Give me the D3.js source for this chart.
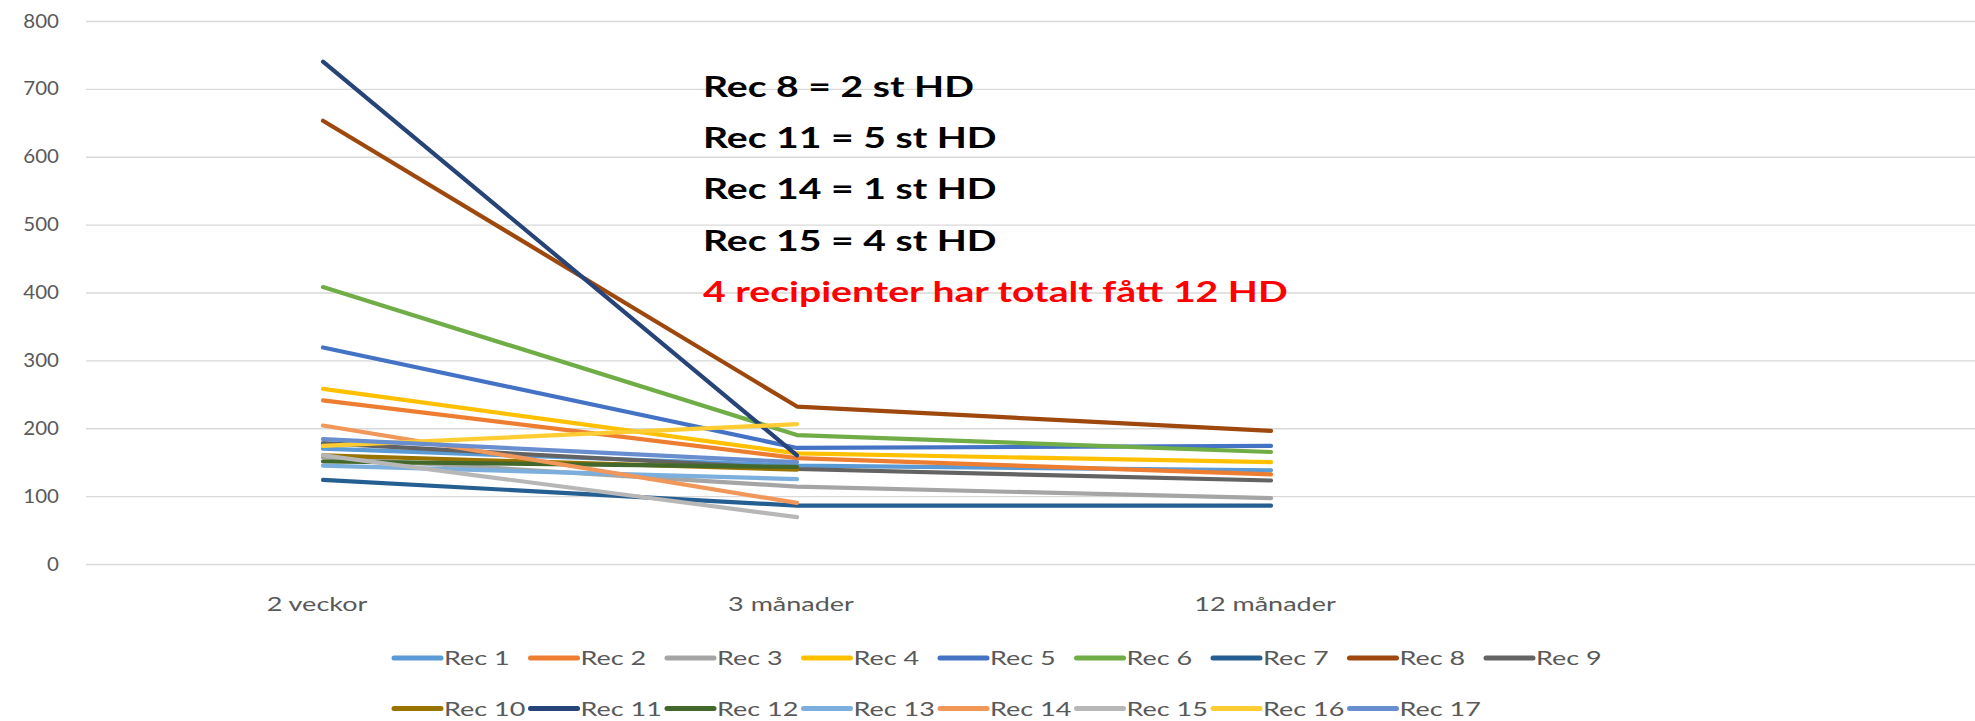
<!DOCTYPE html>
<html>
<head>
<meta charset="utf-8">
<script src="https://cdn.jsdelivr.net/npm/d3@7"></script>
<style>
  body { margin: 0; background: #fff; }
  text { font-family: Lato, "Open Sans", sans-serif; }
</style>
</head>
<body>
<div id="chart"></div>
<script>
// categories on the x axis (the last one is an empty slot, as in the original sheet)
var categories = ["2 veckor", "3 månader", "12 månader", ""];

var seriesNames = ["Rec 1", "Rec 2", "Rec 3", "Rec 4", "Rec 5", "Rec 6", "Rec 7", "Rec 8", "Rec 9",
                   "Rec 10", "Rec 11", "Rec 12", "Rec 13", "Rec 14", "Rec 15", "Rec 16", "Rec 17"];

// values per recipient: 2 veckor, 3 månader, 12 månader (null = no value)
var rec1  = [170, 145, 138];
var rec2  = [241, 156, 132];
var rec3  = [157, 114, 97];
var rec4  = [258, 163, 150];
var rec5  = [319, 171, 174];
var rec6  = [408, 190, 165];
var rec7  = [124, 86, 86];
var rec8  = [653, 232, 196];
var rec9  = [178, 140, 123];
var rec10 = [160, 139, null];
var rec11 = [740, 160, null];
var rec12 = [151, 143, null];
var rec13 = [145, 125, null];
var rec14 = [204, 90, null];
var rec15 = [160, 69, null];
var rec16 = [174, 206, null];
var rec17 = [184, 150, null];

var seriesValues = [rec1, rec2, rec3, rec4, rec5, rec6, rec7, rec8, rec9,
                    rec10, rec11, rec12, rec13, rec14, rec15, rec16, rec17];

var colors = ["#5B9BD5", "#ED7D31", "#A5A5A5", "#FFC000", "#4472C4", "#70AD47", "#255E91", "#9E480E", "#636363",
              "#997300", "#264478", "#43682B", "#7CAFDD", "#F1975A", "#B7B7B7", "#FFCD33", "#698ED0"];

var yTicks = [0, 100, 200, 300, 400, 500, 600, 700, 800];

var notes = ["Rec 8 = 2 st HD", "Rec 11 = 5 st HD", "Rec 14 = 1 st HD", "Rec 15 = 4 st HD"];
var noteRed = "4 recipienter har totalt fått 12 HD";

var W = 1975, H = 721;
var SX = 1.35; // the original picture is stretched sideways

var margin = {top: 21, right: 0, bottom: 157, left: 86};

var svg = d3.select("#chart").append("svg")
    .attr("width", W)
    .attr("height", H);

var x = d3.scalePoint()
    .domain(categories)
    .range([margin.left, 1982])
    .padding(0.5);

var y = d3.scaleLinear()
    .domain([0, 800])
    .range([H - margin.bottom, margin.top]);

// gridlines + y labels
var yAxis = svg.append("g")
    .attr("transform", "translate(" + margin.left + ",0)")
    .call(d3.axisLeft(y).tickValues(yTicks).tickSize(-(W - margin.left)).tickPadding(25));

yAxis.select(".domain").remove();
yAxis.selectAll(".tick line").attr("stroke", "#d9d9d9").attr("stroke-width", 1.3);
yAxis.selectAll(".tick text")
    .attr("fill", "#595959")
    .style("font-size", "19px")
    .attr("transform", "scale(1.08,1)");

// x labels
svg.append("g").selectAll("text")
    .data(categories.filter(function(c) { return c !== ""; }))
  .enter().append("text")
    .attr("transform", function(d) { return "translate(" + (x(d) - 6) + ",611) scale(" + SX + ",1)"; })
    .attr("text-anchor", "middle")
    .attr("fill", "#595959")
    .style("font-size", "20px")
    .text(function(d) { return d; });

// lines
var line = d3.line()
    .defined(function(d) { return d != null; })
    .x(function(d, i) { return x(categories[i]); })
    .y(function(d) { return y(d); });

svg.append("g").selectAll("path")
    .data(seriesValues)
  .enter().append("path")
    .attr("d", line)
    .attr("fill", "none")
    .attr("stroke", function(d, i) { return colors[i]; })
    .attr("stroke-width", 4.2)
    .attr("stroke-linecap", "round")
    .attr("stroke-linejoin", "round");

// annotation
var noteG = svg.append("g");
noteG.selectAll("text")
    .data(notes.concat([noteRed]))
  .enter().append("text")
    .attr("transform", function(d, i) { return "translate(703," + (97 + i * 51.2) + ") scale(" + SX + ",1)"; })
    .attr("fill", function(d, i) { return i < notes.length ? "#000" : "#ff0000"; })
    .style("font-size", "29px")
    .style("font-weight", "bold")
    .text(function(d) { return d; });

// legend
var colW = 136.5, perRow = 9;
var legend = svg.append("g").selectAll("g")
    .data(seriesNames)
  .enter().append("g")
    .attr("transform", function(d, i) {
      var r = Math.floor(i / perRow), c = i % perRow;
      return "translate(" + (394 + c * colW) + "," + (658 + r * 50.5) + ")";
    });

legend.append("line")
    .attr("x1", 0).attr("x2", 47)
    .attr("stroke", function(d, i) { return colors[i]; })
    .attr("stroke-width", 5)
    .attr("stroke-linecap", "round");

legend.append("text")
    .attr("transform", "translate(50,0) scale(" + SX + ",1)")
    .attr("dy", "0.35em")
    .attr("fill", "#595959")
    .style("font-size", "20px")
    .text(function(d) { return d; });
</script>
</body>
</html>
